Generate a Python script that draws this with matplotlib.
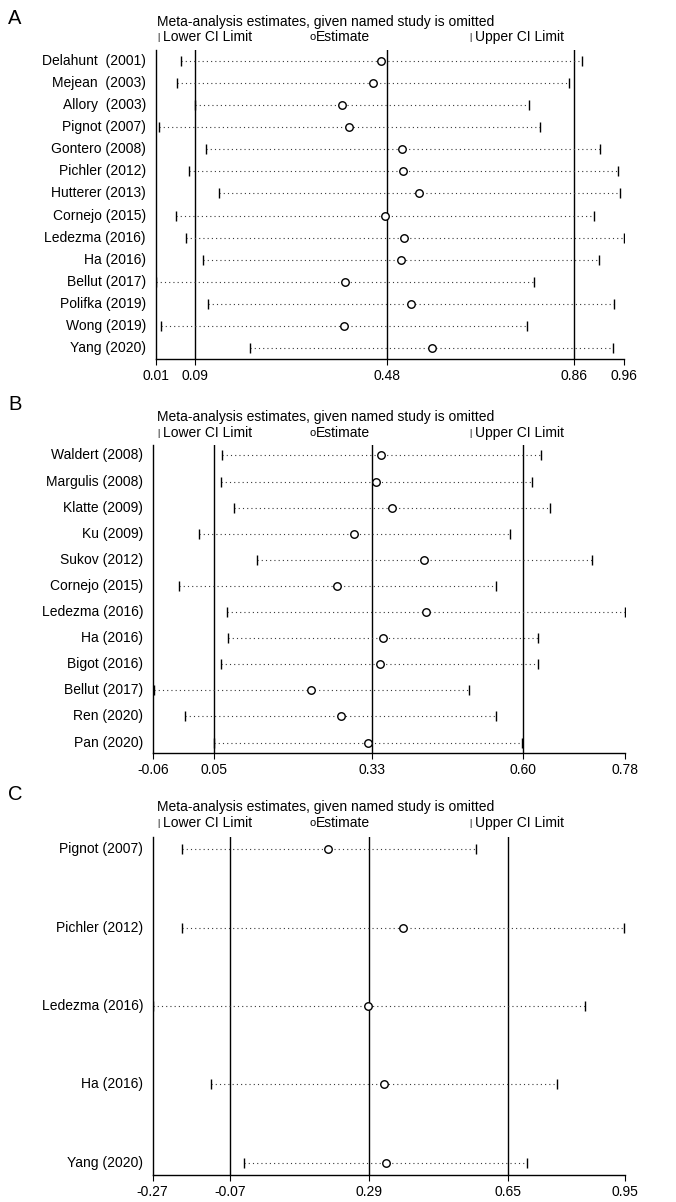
import matplotlib
matplotlib.use("Agg")
import matplotlib.pyplot as plt

plt.rcParams['font.family'] = ['Liberation Sans', 'DejaVu Sans']

# ---------------- Data ----------------
a_studies = ["Delahunt  (2001)", "Mejean  (2003)", "Allory  (2003)", "Pignot (2007)",
             "Gontero (2008)", "Pichler (2012)", "Hutterer (2013)", "Cornejo (2015)",
             "Ledezma (2016)", "Ha (2016)", "Bellut (2017)", "Polifka (2019)",
             "Wong (2019)", "Yang (2020)"]
a_est = [0.468, 0.451, 0.388, 0.403, 0.510, 0.513, 0.545, 0.475, 0.515, 0.508, 0.394, 0.528, 0.392, 0.571]
a_low = [0.062, 0.054, 0.090, 0.017, 0.112, 0.078, 0.139, 0.052, 0.072, 0.106, 0.010, 0.116, 0.021, 0.202]
a_up = [0.875, 0.849, 0.767, 0.790, 0.912, 0.948, 0.952, 0.899, 0.960, 0.909, 0.778, 0.941, 0.764, 0.939]
a_overall = [0.09, 0.48, 0.86]
a_ticks = [0.01, 0.09, 0.48, 0.86, 0.96]
a_ticklabels = ["0.01", "0.09", "0.48", "0.86", "0.96"]

b_studies = ["Waldert (2008)", "Margulis (2008)", "Klatte (2009)", "Ku (2009)",
             "Sukov (2012)", "Cornejo (2015)", "Ledezma (2016)", "Ha (2016)",
             "Bigot (2016)", "Bellut (2017)", "Ren (2020)", "Pan (2020)"]
b_est = [0.347, 0.337, 0.366, 0.299, 0.423, 0.269, 0.426, 0.350, 0.344, 0.221, 0.275, 0.323]
b_low = [0.064, 0.061, 0.085, 0.023, 0.125, -0.013, 0.073, 0.074, 0.061, -0.058, -0.003, 0.049]
b_up = [0.631, 0.615, 0.647, 0.577, 0.723, 0.552, 0.780, 0.626, 0.626, 0.504, 0.552, 0.597]
b_overall = [0.05, 0.33, 0.60]
b_ticks = [-0.06, 0.05, 0.33, 0.60, 0.78]
b_ticklabels = ["-0.06", "0.05", "0.33", "0.60", "0.78"]

c_studies = ["Pignot (2007)", "Pichler (2012)", "Ledezma (2016)", "Ha (2016)", "Yang (2020)"]
c_est = [0.184, 0.377, 0.288, 0.328, 0.332]
c_low = [-0.194, -0.194, -0.270, -0.119, -0.035]
c_up = [0.565, 0.949, 0.848, 0.776, 0.699]
c_overall = [-0.07, 0.29, 0.65]
c_ticks = [-0.27, -0.07, 0.29, 0.65, 0.95]
c_ticklabels = ["-0.27", "-0.07", "0.29", "0.65", "0.95"]

# ---------------- Layout ----------------
W, H = 676, 1202
fig = plt.figure(figsize=(W / 100, H / 100), dpi=100)

FS = 10


def fx(px):
    return px / W


def fy(py):
    return 1 - py / H


def panel(letter, studies, est, low, up, overall, ticks, ticklabels,
          left, right, top, bottom, pad, letter_y, title_y, legend_y, label_x):
    ax = fig.add_axes([fx(left), fy(bottom), fx(right - left), (bottom - top) / H])
    n = len(studies)
    ys = list(range(n))
    for y, lo, e, u in zip(ys, low, est, up):
        ax.plot([lo, u], [y, y], linestyle=(0, (1, 2.8)), color='#3a3a3a', lw=0.8, zorder=2)
    ax.plot(low, ys, linestyle='none', marker='|', markersize=6.5, mew=1.0, color='black', zorder=3)
    ax.plot(up, ys, linestyle='none', marker='|', markersize=6.5, mew=1.0, color='black', zorder=3)
    ax.plot(est, ys, linestyle='none', marker='o', markersize=5.4, mfc='white', mec='black',
            mew=1.0, zorder=4)
    for v in overall:
        ax.axvline(v, color='black', lw=1.0, zorder=1)
    ax.set_xlim(ticks[0], ticks[-1])
    ax.set_ylim(n - 1 + pad, -pad)
    ax.set_xticks(ticks)
    ax.set_xticklabels(ticklabels, fontsize=FS)
    ax.set_yticks([])
    ax.tick_params(axis='x', direction='out', length=4, width=0.8, pad=3)
    for s in ['top', 'right']:
        ax.spines[s].set_visible(False)
    for s in ['left', 'bottom']:
        ax.spines[s].set_linewidth(1.0)
    # study labels
    for y, name in zip(ys, studies):
        ax.annotate(name, xy=(0, y), xycoords=('figure fraction', 'data'),
                    xytext=(label_x, 0), textcoords='offset pixels',
                    ha='right', va='center', fontsize=FS)
    # panel letter, title, legend
    fig.text(fx(8), fy(letter_y), letter, fontsize=14.5, ha='left', va='center')
    fig.text(fx(157), fy(title_y), "Meta-analysis estimates, given named study is omitted",
             fontsize=FS, ha='left', va='center')
    fig.text(fx(157), fy(legend_y), "|", fontsize=6.5, ha='left', va='center')
    fig.text(fx(163), fy(legend_y), "Lower CI Limit", fontsize=FS, ha='left', va='center')
    fig.text(fx(310), fy(legend_y + 0.5), "o", fontsize=8, ha='left', va='center')
    fig.text(fx(316), fy(legend_y), "Estimate", fontsize=FS, ha='left', va='center')
    fig.text(fx(469), fy(legend_y), "|", fontsize=6.5, ha='left', va='center')
    fig.text(fx(475), fy(legend_y), "Upper CI Limit", fontsize=FS, ha='left', va='center')
    return ax


panel("A", a_studies, a_est, a_low, a_up, a_overall, a_ticks, a_ticklabels,
      left=155.7, right=623.7, top=50, bottom=359, pad=0.5,
      letter_y=18, title_y=22, legend_y=37, label_x=146)
panel("B", b_studies, b_est, b_low, b_up, b_overall, b_ticks, b_ticklabels,
      left=152.7, right=624.5, top=445, bottom=753, pad=0.4,
      letter_y=405, title_y=417, legend_y=433, label_x=143)
panel("C", c_studies, c_est, c_low, c_up, c_overall, c_ticks, c_ticklabels,
      left=152.7, right=624.5, top=837, bottom=1175, pad=0.153,
      letter_y=795, title_y=807, legend_y=823, label_x=143)

fig.savefig("out.png", dpi=100, facecolor='white')
